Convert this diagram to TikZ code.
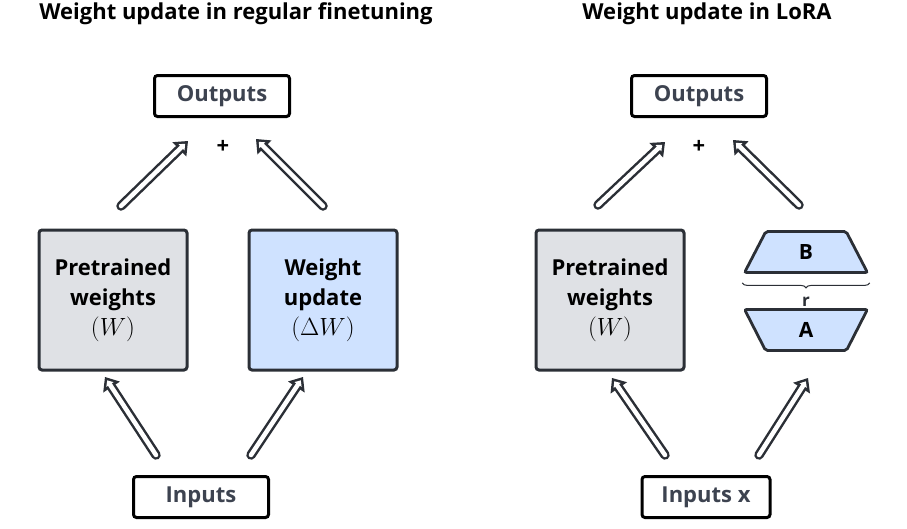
\documentclass[tikz,border=0pt]{standalone}
\usepackage{fontspec}
\setmainfont{Open Sans}
\usetikzlibrary{calc}
\usetikzlibrary{arrows.meta}
\usetikzlibrary{shapes.geometric}
\usetikzlibrary{decorations.pathreplacing}

\definecolor{ink}{HTML}{2B2F36}
\definecolor{labelgray}{HTML}{3D4350}
\definecolor{wgray}{HTML}{DFE1E5}
\definecolor{wblue}{HTML}{CFE2FF}

\newcommand{\wmath}[1]{{\fontsize{25}{30}\selectfont$#1$}}

\begin{document}
\begin{tikzpicture}[x=1pt,y=-1pt,
  title/.style={font=\fontsize{22}{26}\selectfont\bfseries},
  io/.style={draw=black,line width=3pt,rounded corners=3pt,minimum width=135pt,minimum height=41pt,inner sep=0pt,text=labelgray,font=\fontsize{22}{26}\selectfont\bfseries},
  weights/.style={draw=ink,line width=3pt,rounded corners=3pt,minimum width=148pt,minimum height=140pt,inner sep=0pt,align=center,font=\fontsize{22}{30}\selectfont\bfseries},
  lowrank/.style={trapezium,trapezium stretches=true,trapezium left angle=76,trapezium right angle=76,draw=ink,line width=2.8pt,rounded corners=2pt,fill=wblue,minimum width=123pt,minimum height=41pt,inner sep=0pt,font=\fontsize{21}{24}\selectfont\bfseries},
  hollow/.style={draw=ink,line width=9.5pt,line cap=round,-{Triangle[length=12pt,width=20pt,line width=0pt]},
    postaction={draw=white,line width=4.5pt,line cap=round,-{Triangle[length=5pt,width=8.6pt,line width=0pt]},shorten >=4pt}}]

\useasboundingbox (0,0) rectangle (907,528);

% titles
\node[title] (t1) at (236,14) {Weight update in regular finetuning};
\node[title] (t2) at (707,14) {Weight update in LoRA};

% regular finetuning
\node[io] (out1) at (222,96) {Outputs};
\node[font=\fontsize{22}{24}\selectfont\bfseries] (plus1) at (223,147) {+};
\node[weights,fill=wgray] (pre1) at (113,300) {Pretrained\\weights\\\wmath{(W)}};
\node[weights,fill=wblue] (upd) at (323,300) {Weight\\update\\\wmath{(\Delta W)}};
\node[io] (in1) at (201,497) {Inputs};

% LoRA
\node[io] (out2) at (699,96) {Outputs};
\node[font=\fontsize{22}{24}\selectfont\bfseries] (plus2) at (699,147) {+};
\node[weights,fill=wgray] (pre2) at (610,300) {Pretrained\\weights\\\wmath{(W)}};
\node[lowrank] (B) at (806,252) {B};
\node[lowrank,shape border rotate=180] (A) at (806,330) {A};
\node[io,minimum width=128pt] (in2) at (706,497) {Inputs x};

\draw[decorate,decoration={brace,mirror,amplitude=5pt},line width=1pt,ink]
  ($(B.bottom left corner)+(0,9)$) -- ($(B.bottom right corner)+(0,9)$);
\node[font=\fontsize{17}{19}\selectfont\bfseries,text=ink] (rank) at (806,302) {r};

% arrow ends
\coordinate (a1s) at (121,206);
\coordinate (a1e) at (188,141);
\coordinate (a2s) at (323,206);
\coordinate (a2e) at (256,139);
\coordinate (a3s) at (156,455);
\coordinate (a3e) at (105,377);
\coordinate (a4s) at (251,455);
\coordinate (a4e) at (303,377);
\coordinate (b1s) at (598,205);
\coordinate (b1e) at (665,142);
\coordinate (b2s) at (799,205);
\coordinate (b2e) at (733,140);
\coordinate (b3s) at (665,455);
\coordinate (b3e) at (612,378);
\coordinate (b4s) at (759,455);
\coordinate (b4e) at (808,378);

\draw[hollow] (a1s) -- (a1e);
\draw[hollow] (a2s) -- (a2e);
\draw[hollow] (a3s) -- (a3e);
\draw[hollow] (a4s) -- (a4e);
\draw[hollow] (b1s) -- (b1e);
\draw[hollow] (b2s) -- (b2e);
\draw[hollow] (b3s) -- (b3e);
\draw[hollow] (b4s) -- (b4e);

\end{tikzpicture}
\end{document}
